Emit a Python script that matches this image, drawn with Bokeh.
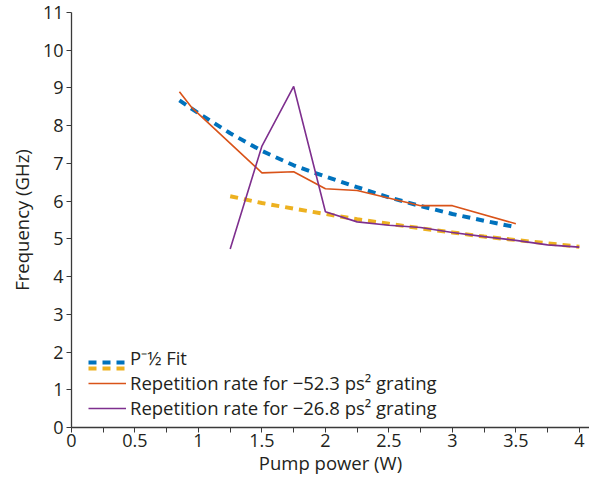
from bokeh.plotting import figure
from bokeh.models import Legend, LegendItem, FixedTicker, Range1d
from bokeh.embed import file_html
from bokeh.resources import INLINE

# Fit curves (P^-1/2 fit)
fit_a_x = [0.85, 1.0, 1.25, 1.5, 1.75, 2.0, 2.25, 2.5, 2.75, 3.0, 3.25, 3.5]
fit_a_y = [8.67, 8.33, 7.8, 7.33, 6.95, 6.65, 6.37, 6.1, 5.87, 5.66, 5.48, 5.31]
fit_b_x = [1.25, 1.5, 1.75, 2.0, 2.25, 2.5, 2.75, 3.0, 3.25, 3.5, 3.75, 4.0]
fit_b_y = [6.13, 5.95, 5.8, 5.66, 5.52, 5.4, 5.28, 5.17, 5.06, 4.97, 4.88, 4.79]

# Repetition rate for -52.3 ps^2 grating
rep_a_x = [0.85, 0.95, 1.5, 1.75, 2.0, 2.25, 2.75, 3.0, 3.5]
rep_a_y = [8.9, 8.47, 6.75, 6.78, 6.33, 6.28, 5.88, 5.88, 5.40]

# Repetition rate for -26.8 ps^2 grating
rep_b_x = [1.25, 1.5, 1.75, 2.0, 2.25, 2.5, 2.75, 3.0, 3.25, 3.5, 3.75, 4.0]
rep_b_y = [4.73, 7.46, 9.04, 5.72, 5.45, 5.36, 5.3, 5.17, 5.06, 4.96, 4.84, 4.78]

x_major = [0, 0.5, 1, 1.5, 2, 2.5, 3, 3.5, 4]
x_minor = [0.25, 0.75, 1.25, 1.75, 2.25, 2.75, 3.25, 3.75]
y_major = list(range(0, 12))

FONT = "Open Sans"
TXT = "#231f20"
AX = "#3a3a3a"

p = figure(width=589, height=477, output_backend="svg", toolbar_location=None,
           x_range=Range1d(0, 4.08), y_range=Range1d(0, 11),
           min_border_left=71, min_border_right=0, min_border_top=12, min_border_bottom=46)
p.outline_line_color = None
p.xgrid.visible = False
p.ygrid.visible = False
p.background_fill_color = "white"

blue = p.line(fit_a_x, fit_a_y, line_color="#0072BD", line_width=4, line_dash="8 6")
yellow = p.line(fit_b_x, fit_b_y, line_color="#EDB120", line_width=4, line_dash="8 6")
orange = p.line(rep_a_x, rep_a_y, line_color="#D95319", line_width=1.6)
purple = p.line(rep_b_x, rep_b_y, line_color="#7E2F8E", line_width=1.6)
dummy = p.line([], [], line_alpha=0)

xa = p.xaxis[0]
xa.ticker = FixedTicker(ticks=x_major, minor_ticks=x_minor)
xa.axis_label = "Pump power (W)"
ya = p.yaxis[0]
ya.ticker = FixedTicker(ticks=y_major)
ya.axis_label = "Frequency (GHz)"
for ax in (xa, ya):
    ax.axis_line_color = AX
    ax.axis_line_width = 1.3
    ax.major_tick_line_color = AX
    ax.minor_tick_line_color = AX
    ax.major_tick_in = 0
    ax.major_tick_out = 5
    ax.minor_tick_in = 0
    ax.minor_tick_out = 5
    ax.major_label_text_font = FONT
    ax.major_label_text_font_size = "18px"
    ax.major_label_text_color = TXT
    ax.axis_label_text_font = FONT
    ax.axis_label_text_font_size = "18.5px"
    ax.axis_label_text_font_style = "normal"
    ax.axis_label_text_color = TXT
    ax.major_label_standoff = 1
    ax.axis_label_standoff = 0
ya.minor_tick_line_color = None
ya.major_label_standoff = 3
ya.axis_label_standoff = 6


def make_legend(items, loc, spacing=-5):
    lg = Legend(items=items, location=loc, background_fill_alpha=0, border_line_color=None,
                padding=0, margin=0, spacing=spacing, label_height=22, glyph_height=22,
                glyph_width=38, label_standoff=4, label_text_font=FONT,
                label_text_font_size="18.5px", label_text_color=TXT)
    p.add_layout(lg, "center")
    return lg

make_legend([LegendItem(label=" ", renderers=[blue])], (17, 54))
make_legend([LegendItem(label=" ", renderers=[yellow])], (17, 48))
make_legend([
    LegendItem(label="P\u207b\u00bd Fit", renderers=[dummy]),
    LegendItem(label="Repetition rate for \u221252.3 ps\u00b2 grating", renderers=[orange]),
    LegendItem(label="Repetition rate for \u221226.8 ps\u00b2 grating", renderers=[purple]),
], (17, 7))

open("out.html", "w").write(file_html(p, INLINE))
